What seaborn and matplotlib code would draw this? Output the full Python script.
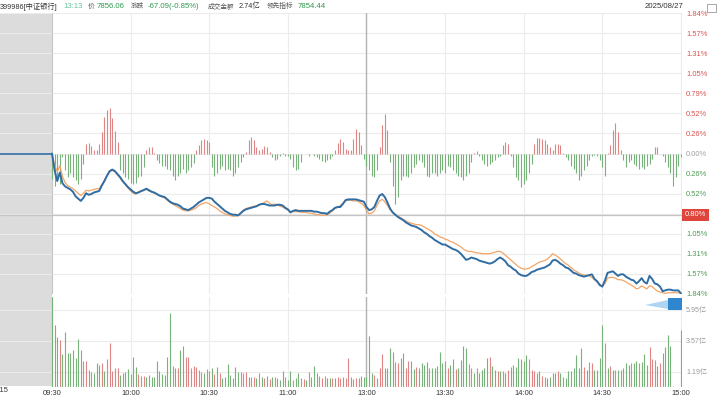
import numpy as np
import pandas as pd
import seaborn as sns
import matplotlib.pyplot as plt
import matplotlib.transforms as mtransforms
from matplotlib.patches import Rectangle, Polygon

sns.set_theme(style="white")
plt.rcParams["font.family"] = ["Liberation Sans", "Noto Sans CJK SC", "DejaVu Sans"]

W, H = 719, 397

# ---- data: one value per minute from 09:30 (13:01 follows 11:30) ----
price_pct = [
    0.00, -0.22, -0.36, -0.25, -0.39, -0.43, -0.45, -0.47, -0.50, -0.56,
    -0.59, -0.62, -0.58, -0.52, -0.54, -0.53, -0.51, -0.50, -0.49, -0.42,
    -0.36, -0.29, -0.23, -0.21, -0.23, -0.27, -0.31, -0.36, -0.40, -0.44,
    -0.47, -0.50, -0.52, -0.51, -0.49, -0.48, -0.46, -0.48, -0.50, -0.51,
    -0.53, -0.55, -0.56, -0.57, -0.60, -0.63, -0.65, -0.66, -0.67, -0.69,
    -0.72, -0.73, -0.74, -0.72, -0.70, -0.67, -0.64, -0.62, -0.60, -0.58,
    -0.58, -0.59, -0.63, -0.66, -0.69, -0.72, -0.75, -0.77, -0.79, -0.80,
    -0.80, -0.81, -0.78, -0.75, -0.73, -0.72, -0.71, -0.70, -0.69, -0.67,
    -0.66, -0.66, -0.67, -0.68, -0.68, -0.68, -0.67, -0.67, -0.68, -0.71,
    -0.73, -0.77, -0.75, -0.74, -0.75, -0.75, -0.75, -0.75, -0.75, -0.75,
    -0.76, -0.76, -0.77, -0.78, -0.78, -0.79, -0.76, -0.74, -0.71, -0.70,
    -0.70, -0.66, -0.61, -0.60, -0.60, -0.60, -0.60, -0.61, -0.62, -0.63,
    -0.70, -0.74, -0.73, -0.70, -0.62, -0.55, -0.53, -0.57, -0.64, -0.72,
    -0.77, -0.80, -0.83, -0.85, -0.87, -0.90, -0.92, -0.94, -0.95, -0.96,
    -0.98, -1.00, -1.03, -1.05, -1.08, -1.10, -1.13, -1.15, -1.17, -1.19,
    -1.19, -1.21, -1.23, -1.25, -1.26, -1.28, -1.31, -1.35, -1.39, -1.38,
    -1.36, -1.37, -1.38, -1.40, -1.41, -1.42, -1.43, -1.44, -1.43, -1.41,
    -1.38, -1.36, -1.38, -1.41, -1.46, -1.48, -1.51, -1.53, -1.57, -1.59,
    -1.60, -1.60, -1.58, -1.55, -1.54, -1.52, -1.51, -1.50, -1.49, -1.47,
    -1.45, -1.40, -1.39, -1.41, -1.44, -1.46, -1.49, -1.50, -1.53, -1.56,
    -1.57, -1.59, -1.60, -1.61, -1.60, -1.59, -1.58, -1.64, -1.67, -1.72,
    -1.74, -1.66, -1.56, -1.55, -1.54, -1.57, -1.60, -1.58, -1.58, -1.61,
    -1.63, -1.65, -1.66, -1.70, -1.67, -1.63, -1.68, -1.70, -1.60, -1.64,
    -1.70, -1.71, -1.74, -1.80, -1.79, -1.78, -1.78, -1.79, -1.79, -1.79,
    -1.83,
]

lead_pct = [
    0.00, -0.15, -0.24, -0.16, -0.30, -0.38, -0.42, -0.44, -0.46, -0.49,
    -0.52, -0.55, -0.52, -0.48, -0.49, -0.48, -0.47, -0.46, -0.46, -0.41,
    -0.35, -0.29, -0.24, -0.22, -0.24, -0.28, -0.32, -0.37, -0.41, -0.45,
    -0.49, -0.52, -0.53, -0.50, -0.50, -0.47, -0.47, -0.49, -0.50, -0.52,
    -0.53, -0.55, -0.57, -0.58, -0.61, -0.64, -0.66, -0.68, -0.70, -0.72,
    -0.74, -0.75, -0.75, -0.74, -0.73, -0.71, -0.68, -0.66, -0.65, -0.64,
    -0.66, -0.68, -0.70, -0.72, -0.75, -0.77, -0.79, -0.80, -0.81, -0.82,
    -0.82, -0.81, -0.78, -0.74, -0.72, -0.71, -0.70, -0.69, -0.69, -0.68,
    -0.66, -0.64, -0.62, -0.65, -0.67, -0.66, -0.67, -0.69, -0.70, -0.72,
    -0.74, -0.76, -0.76, -0.76, -0.76, -0.77, -0.77, -0.77, -0.78, -0.78,
    -0.79, -0.80, -0.80, -0.81, -0.81, -0.80, -0.78, -0.75, -0.72, -0.70,
    -0.68, -0.65, -0.62, -0.61, -0.61, -0.62, -0.62, -0.63, -0.65, -0.68,
    -0.74, -0.79, -0.78, -0.75, -0.68, -0.62, -0.60, -0.63, -0.68, -0.73,
    -0.77, -0.80, -0.82, -0.84, -0.86, -0.88, -0.90, -0.91, -0.92, -0.93,
    -0.93, -0.94, -0.96, -0.98, -1.00, -1.02, -1.05, -1.07, -1.09, -1.10,
    -1.12, -1.13, -1.15, -1.16, -1.18, -1.20, -1.22, -1.25, -1.27, -1.28,
    -1.28, -1.29, -1.30, -1.30, -1.31, -1.31, -1.31, -1.31, -1.30, -1.29,
    -1.28, -1.28, -1.30, -1.33, -1.36, -1.39, -1.42, -1.45, -1.48, -1.50,
    -1.51, -1.51, -1.50, -1.48, -1.46, -1.44, -1.42, -1.41, -1.40, -1.38,
    -1.35, -1.31, -1.33, -1.35, -1.38, -1.41, -1.44, -1.46, -1.49, -1.52,
    -1.54, -1.56, -1.58, -1.59, -1.59, -1.60, -1.62, -1.65, -1.68, -1.71,
    -1.73, -1.70, -1.63, -1.62, -1.62, -1.63, -1.65, -1.65, -1.66, -1.68,
    -1.70, -1.72, -1.74, -1.77, -1.76, -1.73, -1.75, -1.77, -1.73, -1.74,
    -1.77, -1.80, -1.81, -1.82, -1.83, -1.82, -1.82, -1.82, -1.82, -1.82,
    -1.83,
]

diff_bars = [
    -0.33, -0.42, -0.35, -0.40, -0.05, -0.22, -0.31, -0.25, -0.31, -0.35,
    -0.40, -0.33, -0.14, 0.13, 0.14, 0.10, 0.04, 0.04, 0.13, 0.28,
    0.48, 0.57, 0.60, 0.46, 0.30, 0.15, -0.22, -0.26, -0.31, -0.33,
    -0.39, -0.40, -0.38, -0.31, -0.29, -0.18, 0.04, 0.08, 0.08, 0.01,
    -0.09, -0.13, -0.16, -0.16, -0.20, -0.22, -0.29, -0.35, -0.29, -0.26,
    -0.20, -0.25, -0.22, -0.18, -0.13, 0.04, 0.11, 0.18, 0.19, 0.18,
    0.15, -0.18, -0.29, -0.25, -0.20, -0.16, -0.22, -0.20, -0.22, -0.29,
    -0.25, -0.18, -0.11, -0.05, 0.02, 0.18, 0.21, 0.17, 0.08, 0.04,
    0.06, 0.10, 0.08, 0.02, -0.05, -0.09, -0.07, -0.03, 0.01, -0.03,
    -0.03, -0.07, -0.18, -0.22, -0.20, -0.11, -0.01, -0.01, -0.03, -0.01,
    -0.03, -0.05, -0.07, -0.10, -0.11, -0.09, -0.07, -0.03, 0.04, 0.14,
    0.19, 0.15, 0.06, 0.05, 0.04, 0.19, 0.32, 0.28, 0.11, -0.07,
    -0.16, -0.22, -0.29, -0.31, -0.22, 0.08, 0.37, 0.52, 0.31, -0.11,
    -0.42, -0.66, -0.57, -0.35, -0.29, -0.29, -0.31, -0.26, -0.18, -0.14,
    -0.09, -0.11, -0.18, -0.29, -0.31, -0.26, -0.25, -0.29, -0.25, -0.22,
    -0.25, -0.16, -0.18, -0.22, -0.26, -0.29, -0.31, -0.35, -0.29, -0.25,
    -0.11, 0.01, 0.03, -0.03, -0.09, -0.14, -0.16, -0.14, -0.11, -0.09,
    -0.05, -0.03, 0.11, 0.15, 0.13, -0.03, -0.18, -0.31, -0.35, -0.44,
    -0.40, -0.35, -0.25, -0.14, 0.13, 0.20, 0.20, 0.19, 0.17, 0.13,
    0.08, 0.05, 0.13, 0.13, 0.11, 0.01, -0.05, -0.09, -0.16, -0.20,
    -0.25, -0.35, -0.29, -0.22, -0.16, -0.09, -0.03, -0.02, -0.03, -0.09,
    -0.18, -0.29, 0.01, 0.11, 0.31, 0.40, 0.28, 0.04, -0.09, -0.18,
    -0.11, -0.09, -0.14, -0.16, -0.20, -0.18, -0.20, -0.16, -0.14, -0.07,
    0.08, 0.08, -0.01, -0.03, -0.11, -0.18, -0.26, -0.42, -0.31, -0.16,
    -0.05,
]

# turnover per minute, in 亿
vol_yi = [
    6.90, 4.76, 3.82, 3.61, 2.51, 4.25, 2.64, 2.58, 2.84, 2.20,
    3.69, 2.84, 2.02, 2.00, 1.31, 1.18, 1.05, 1.87, 1.69, 1.87,
    1.25, 2.12, 3.35, 1.23, 1.43, 1.43, 0.92, 1.05, 1.18, 1.36,
    1.00, 2.33, 1.51, 1.00, 0.84, 0.84, 0.74, 0.92, 0.79, 0.74,
    2.02, 1.25, 1.00, 0.92, 2.28, 5.66, 1.61, 1.43, 1.43, 2.84,
    3.17, 2.33, 2.33, 1.43, 1.61, 1.56, 1.31, 1.18, 1.10, 1.36,
    1.25, 1.43, 1.00, 1.56, 1.05, 0.69, 0.74, 1.77, 0.92, 0.69,
    1.56, 1.18, 1.18, 1.05, 1.18, 0.79, 0.74, 0.74, 0.69, 1.10,
    0.74, 0.69, 0.84, 0.61, 0.74, 0.79, 0.69, 0.56, 1.25, 0.74,
    0.56, 1.25, 0.56, 0.69, 1.10, 0.69, 0.61, 0.56, 1.18, 0.74,
    1.61, 1.10, 0.84, 0.69, 0.84, 0.69, 0.69, 0.69, 0.69, 0.74,
    0.69, 0.74, 0.69, 2.20, 0.74, 0.61, 0.69, 0.72, 0.84, 0.74,
    0.80, 3.92, 1.10, 0.92, 0.67, 1.43, 2.53, 1.43, 1.43, 2.97,
    2.71, 1.95, 1.82, 2.20, 2.64, 1.43, 2.02, 2.02, 1.36, 1.56,
    1.43, 1.82, 1.69, 1.95, 1.48, 1.43, 1.43, 1.61, 2.71, 1.82,
    2.02, 1.43, 1.69, 2.12, 1.36, 1.43, 2.07, 3.17, 2.97, 1.77,
    1.43, 1.10, 1.43, 1.10, 1.31, 1.43, 2.20, 2.33, 1.61, 1.31,
    1.25, 1.25, 1.25, 1.10, 1.31, 1.56, 1.69, 1.56, 2.20, 2.12,
    2.02, 2.46, 2.12, 1.31, 1.25, 1.10, 1.25, 0.84, 0.79, 0.67,
    0.79, 1.10, 1.10, 1.25, 1.05, 0.74, 0.67, 1.25, 1.25, 1.43,
    2.46, 1.43, 2.97, 1.56, 1.31, 1.95, 1.87, 1.31, 1.31, 2.20,
    4.76, 3.35, 1.43, 1.61, 1.31, 1.31, 1.31, 1.31, 1.43, 1.87,
    1.69, 1.82, 1.82, 2.02, 1.82, 1.95, 2.53, 1.69, 3.10, 2.12,
    2.07, 1.61, 1.82, 2.59, 3.10, 3.99, 3.15, 0.05, 0.00, 0.00,
    4.38,
]

# r = up minute, g = down minute
vol_dir = (
    "gggrgggggg" "ggrrgrgggr" "grrrrrgggg" "gggrrrgggg" "ggggggrgrg"
    "grrrrrrrgr" "rgrgrggggg" "ggrrrgrrgr" "grgrgrgggr" "ggrggrrgrg"
    "ggrrrggrgr" "rgrrgrrrgg" "gggrrrrggg" "grrggrrggr" "ggggrggggg"
    "grggrggggr" "rgrggggrgg" "rgrgrggggg" "ggrrrggrrg" "gggrgggggg"
    "gggrgrrggg" "grgrgrgrgg" "grggrgggrr" "rgrggggrggg"
)

time_ticks = [0, 30, 60, 90, 120, 150, 180, 210, 240]
time_labels = ["09:30", "10:00", "10:30", "11:00", "13:00", "13:30", "14:00", "14:30", "15:00"]
pct_max = 1.837
pct_labels = ["1.84%", "1.57%", "1.31%", "1.05%", "0.79%", "0.52%", "0.26%", "0.00%",
              "0.26%", "0.52%", "0.79%", "1.05%", "1.31%", "1.57%", "1.84%"]
vol_ticks = [1.19, 3.57, 5.95]
vol_labels = ["1.19亿", "3.57亿", "5.95亿"]
cursor_time = 120
cursor_pct = -0.80

minutes = np.arange(len(price_pct))
df = pd.DataFrame({"minute": minutes, "price": price_pct, "lead": lead_pct,
                   "diff": diff_bars, "vol": vol_yi, "dir": list(vol_dir)})

RED = "#d9534f"
GREEN = "#4f9a55"
BAR_RED = "#de8585"
BAR_GREEN = "#78b27b"
BLUE = "#2f6da3"
ORANGE = "#f2a567"

fig = plt.figure(figsize=(W / 100, H / 100), dpi=100, facecolor="white")
ax = fig.add_axes([0, 1 - 294 / H, 682 / W, 281 / H])
axv = fig.add_axes([0, 1 - 387 / H, 682 / W, 90 / H])
xmin, xmax = -19.84, 240.4

for a in (ax, axv):
    a.set_facecolor("none")
    a.set_xlim(xmin, xmax)
    for s in a.spines.values():
        s.set_visible(False)
    a.set_xticks(time_ticks)
    a.grid(True, color="#ececec", lw=0.8)
    a.set_axisbelow(True)
    a.tick_params(length=0)

# pre-open shaded block across both panels
trans = mtransforms.blended_transform_factory(ax.transData, fig.transFigure)
fig.patches.append(Rectangle((xmin, 1 - 386 / H), -xmin, 373 / H, transform=trans,
                             facecolor="#dcdcdc", edgecolor="none", zorder=-1))

# price panel
ax.set_ylim(-pct_max, pct_max)
pct_ticks = np.linspace(-pct_max, pct_max, len(pct_labels))
ax.set_yticks(pct_ticks, labels=pct_labels)
ax.yaxis.tick_right()
ax.tick_params(axis="y", labelsize=5.4, pad=3)
ax.tick_params(axis="x", labelbottom=False)
for lab, v in zip(ax.get_yticklabels(), pct_ticks):
    lab.set_color(RED if v > 1e-6 else (GREEN if v < -1e-6 else "#a0a0a0"))

bar_colors = [BAR_RED if v > 0 else BAR_GREEN for v in df["diff"]]
ax.vlines(df["minute"], 0, df["diff"], colors=bar_colors, lw=0.8, zorder=2)
ax.plot([xmin, 0], [price_pct[0], price_pct[0]], color=BLUE, lw=1.2, zorder=3)
sns.lineplot(data=df, x="minute", y="lead", ax=ax, color=ORANGE, lw=0.9, zorder=3)
sns.lineplot(data=df, x="minute", y="price", ax=ax, color=BLUE, lw=1.4, zorder=4)
ax.set_xlabel("")
ax.set_ylabel("")
ax.axvline(0, color="#c8c8c8", lw=0.8, zorder=1)
ax.axvline(cursor_time, color="#b4b4b4", lw=1.0, zorder=1)
ax.axhline(cursor_pct, color="#c4c4c4", lw=0.9, zorder=1)

tag_trans = mtransforms.blended_transform_factory(ax.transAxes, ax.transData)
ax.text(1.004, cursor_pct, f"{abs(cursor_pct):.2f}%", transform=tag_trans, ha="left",
        va="center", fontsize=5.4, color="white", clip_on=False, zorder=10,
        bbox=dict(boxstyle="square,pad=0.35", fc="#e0453c", ec="none"))

# volume panel
axv.set_ylim(0, 6.91)
axv.set_yticks(vol_ticks, labels=vol_labels)
axv.yaxis.tick_right()
axv.tick_params(axis="y", labelsize=5.1, pad=3, labelcolor="#9a9a9a")
axv.set_xticks(time_ticks, labels=time_labels)
axv.tick_params(axis="x", labelsize=5.4, pad=2, labelcolor="#333333")
vol_colors = [BAR_RED if d == "r" else BAR_GREEN for d in df["dir"]]
axv.vlines(df["minute"], 0, df["vol"], colors=vol_colors, lw=0.8, zorder=2)
axv.axvline(0, color="#c8c8c8", lw=0.8, zorder=1)
axv.axvline(cursor_time, color="#b4b4b4", lw=1.0, zorder=1)
fig.text(-1 / W, 1 - 391 / H, "09:15", ha="center", va="center", fontsize=5.4, color="#333333")

# current-price marker under the price panel
fig.patches.append(Polygon([(645 / W, 1 - 305 / H), (668 / W, 1 - 300 / H), (668 / W, 1 - 309 / H)],
                           closed=True, transform=fig.transFigure, facecolor="#8ec3ec",
                           edgecolor="none", alpha=0.7))
fig.patches.append(Rectangle((668 / W, 1 - 310 / H), 14 / W, 12 / H, transform=fig.transFigure,
                             facecolor="#2f86d0", edgecolor="none"))

# header line
hy = 1 - 6.5 / H
header = [
    (0, "399986[中证银行]", "#333333", 5.2),
    (63, "13:13", "#6cc3a0", 5.6),
    (88, "价", "#555555", 4.8),
    (97, "7856.06", "#2f9a4f", 5.6),
    (131, "涨跌", "#555555", 4.8),
    (148, "-67.09(-0.85%)", "#2f9a4f", 5.6),
    (208, "成交金额", "#555555", 4.8),
    (239, "2.74亿", "#333333", 5.3),
    (267, "领先指标", "#555555", 4.8),
    (298, "7854.44", "#2f9a4f", 5.6),
]
for x, txt, col, fs in header:
    fig.text(x / W, hy, txt, ha="left", va="center", fontsize=fs, color=col)
fig.text(664 / W, hy, "2025/08/27", ha="center", va="center", fontsize=5.6, color="#333333")
fig.patches.append(Rectangle((707 / W, 1 - 12 / H), 9 / W, 8 / H, transform=fig.transFigure,
                             facecolor="white", edgecolor="#9a9a9a", lw=0.6))

fig.savefig("out.png", dpi=100)
